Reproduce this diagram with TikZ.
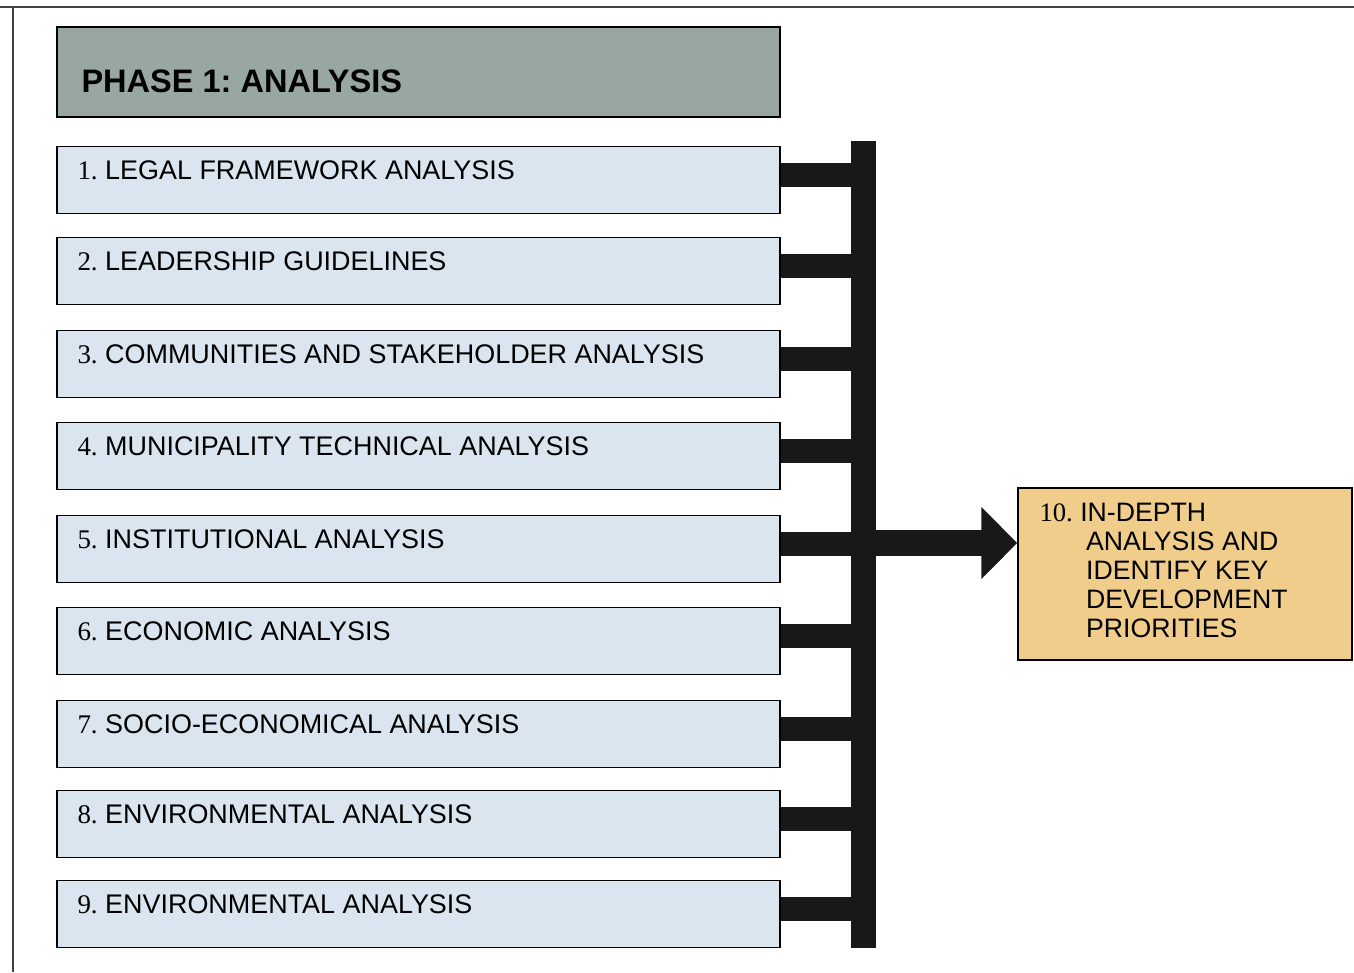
\documentclass[tikz,border=0pt]{standalone}
\usepackage{fontspec}
\setmainfont{Liberation Sans}
\newfontfamily\numfont{Liberation Serif}
\usetikzlibrary{calc,arrows.meta}
\definecolor{boxfill}{RGB}{218,229,240}
\definecolor{headfill}{RGB}{152,167,161}
\definecolor{goalfill}{RGB}{240,205,138}
\definecolor{barcol}{RGB}{24,24,24}
\frenchspacing
\begin{document}
\begin{tikzpicture}[x=0.75pt,y=-0.75pt,
  item/.style={draw=black,line width=1.1pt,fill=boxfill,minimum width=723*0.75pt,minimum height=67*0.75pt,inner sep=0pt},
  head/.style={draw=black,line width=1.1pt,fill=headfill,minimum width=723*0.75pt,minimum height=90*0.75pt,inner sep=0pt},
  goal/.style={draw=black,line width=1.1pt,fill=goalfill,minimum width=334*0.75pt,minimum height=172*0.75pt,inner sep=0pt},
  lbl/.style={anchor=base west,inner sep=0pt,font=\fontsize{20.2pt}{21.75pt}\selectfont},
  stub/.style={draw=barcol,line width=18.5pt},
  busbar/.style={draw=barcol,line width=18.75pt},
  frame/.style={draw=black!75,line width=1.2pt}]
\useasboundingbox (0,0) rectangle (1354,972);
\draw[frame] (0,7) -- (1354,7);
\draw[frame] (13,7) -- (13,972);

\node[head] (h) at (418.5,72) {};
\node[lbl,font=\fontsize{24.4pt}{26pt}\selectfont\bfseries] at ($(h.west)+(25,20)$) {PHASE 1: ANALYSIS};

\foreach \i/\y/\t in {1/180/LEGAL FRAMEWORK ANALYSIS,
                      2/271/LEADERSHIP GUIDELINES,
                      3/364/COMMUNITIES AND STAKEHOLDER ANALYSIS,
                      4/456/MUNICIPALITY TECHNICAL ANALYSIS,
                      5/549/INSTITUTIONAL ANALYSIS,
                      6/641/ECONOMIC ANALYSIS,
                      7/734/SOCIO-ECONOMICAL ANALYSIS,
                      8/824/ENVIRONMENTAL ANALYSIS,
                      9/914/ENVIRONMENTAL ANALYSIS}{
  \node[item] (b\i) at (418.5,\y) {};
  \node[lbl] (t\i) at ($(b\i.west)+(21,-1)$) {{\numfont\i.} \t};
}

\coordinate (bartop) at (863.5,141);
\coordinate (barbot) at (863.5,948);
\draw[busbar] (bartop) -- (barbot);
\foreach \i in {1,...,9}{
  \coordinate (s\i) at ($(b\i.east)+(0,-5)$);
  \draw[stub] (s\i) -- (s\i -| bartop);
}

\node[goal] (b10) at (1185,574) {};
\node[anchor=north west,inner sep=0pt,align=left,font=\fontsize{20pt}{21.75pt}\selectfont] (t10) at ($(b10.north west)+(22,16)$)
  {{\numfont 10.} IN-DEPTH\\
   \hspace*{35pt}ANALYSIS AND\\
   \hspace*{35pt}IDENTIFY KEY\\
   \hspace*{35pt}DEVELOPMENT\\
   \hspace*{35pt}PRIORITIES};

\coordinate (ar) at (863.5,543);
\draw[draw=barcol,line width=19.5pt,-{Triangle[length=27pt,width=52.5pt,fill=barcol]}] (ar) -- (ar -| b10.west);
\end{tikzpicture}
\end{document}
